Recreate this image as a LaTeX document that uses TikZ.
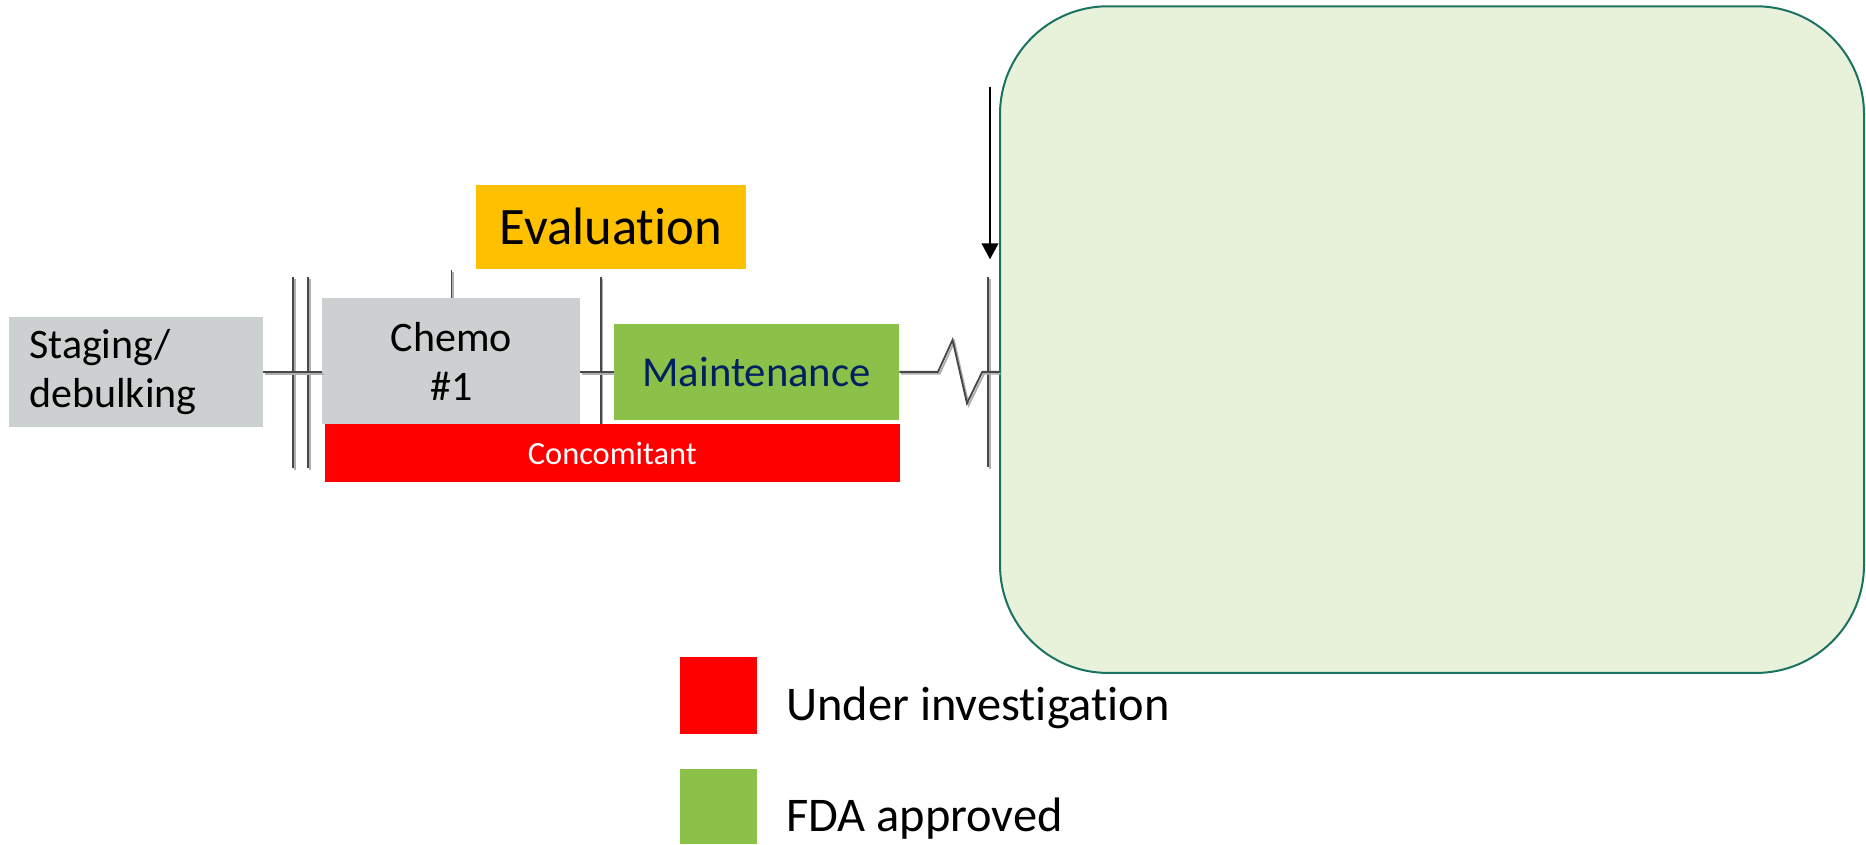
\documentclass[tikz,border=0pt]{standalone}
\usepackage{fontspec}
\setmainfont{Carlito}[Ligatures=NoCommon]
\usetikzlibrary{arrows.meta}

\definecolor{boxgray}{RGB}{205,208,209}
\definecolor{evalorange}{RGB}{255,192,0}
\definecolor{approvedgreen}{RGB}{139,193,72}
\definecolor{textnavy}{RGB}{0,32,96}
\definecolor{panelfill}{RGB}{232,242,219}
\definecolor{paneledge}{RGB}{26,115,96}
\definecolor{linegray}{RGB}{72,72,72}
\definecolor{shadowgray}{RGB}{175,175,175}

\begin{document}
\begin{tikzpicture}[x=0.75pt, y=0.75pt, >={Triangle[width=12.5pt,length=12pt]},
    phase/.style={fill=boxgray, inner sep=0pt, font=\fontsize{31.5}{37}\selectfont},
    rulebar/.style={draw=linegray, line width=1.4pt,
        preaction={draw=shadowgray, line width=1.4pt, transform canvas={shift={(1.3pt,-1.4pt)}}}},
    key/.style={minimum width=57.6pt, inner sep=0pt},
    keytext/.style={anchor=base west, inner sep=0pt, font=\fontsize{36.3}{42}\selectfont}]
    \useasboundingbox (0,0) rectangle (1866,844);

    % ticks on the time axis, drawn first so the boxes cover them
    \foreach \xx/\ya/\yb in {293.4/566.7/375.7, 307.9/566.7/375.7, 451.5/574/416,
        600.7/566.7/419, 988.3/566.7/377.3}
        \draw[rulebar] (\xx,\ya) -- (\xx,\yb);

    \node[phase, minimum width=190.1pt, minimum height=82pt, text width=160pt, align=left]
        (stage) at (135.9,472) {Staging/\\debulking};
    \node[phase, minimum width=193.2pt, minimum height=94.3pt, align=center]
        (chemo) at (451.2,482.8) {Chemo\\\#1};
    \node[fill=evalorange, minimum width=202.3pt, minimum height=62.8pt, inner sep=0pt,
        font=\fontsize{39.5}{46}\selectfont] (eval) at (610.9,617.1) {Evaluation};
    \node[fill=approvedgreen, text=textnavy, minimum width=213.75pt, minimum height=71.8pt,
        inner sep=0pt, font=\fontsize{32}{37}\selectfont] (maint) at (756.5,472.1) {Maintenance};
    \node[fill=red, text=white, minimum width=431.6pt, minimum height=43.5pt, inner sep=0pt,
        font=\fontsize{24.3}{29}\selectfont] (conc) at (612.3,391) {Concomitant};

    \node[draw=paneledge, line width=1.5pt, fill=panelfill, rounded corners=81pt,
        minimum width=648pt, minimum height=500pt] (panel) at (1432,504.4) {};

    % time axis
    \draw[rulebar] (stage.east) -- (stage.east -| chemo.west);
    \draw[rulebar] (chemo.east |- maint.west) -- (maint.west);
    \draw[rulebar] (maint.east) -- ++(38.7,0) -- ++(14.6,32) -- ++(14.4,-63.3)
        -- ++(15.3,31.3) -- (panel.west |- maint.east);

    \coordinate (arrowtop) at (990,757);
    \coordinate (arrowtip) at (990,584.7);
    \draw[->, line width=1.5pt] (arrowtop) -- (arrowtip);

    % legend
    \node[key, fill=red, minimum height=57.5pt] (keyred) at (718.6,148.65) {};
    \node[key, fill=approvedgreen, minimum height=56.25pt] (keygreen) at (718.6,37.5) {};
    \node[keytext] (keyredtext) at (786,124) {Under investigation};
    \node[keytext] (keygreentext) at (786,12.3) {FDA approved};
\end{tikzpicture}
\end{document}
